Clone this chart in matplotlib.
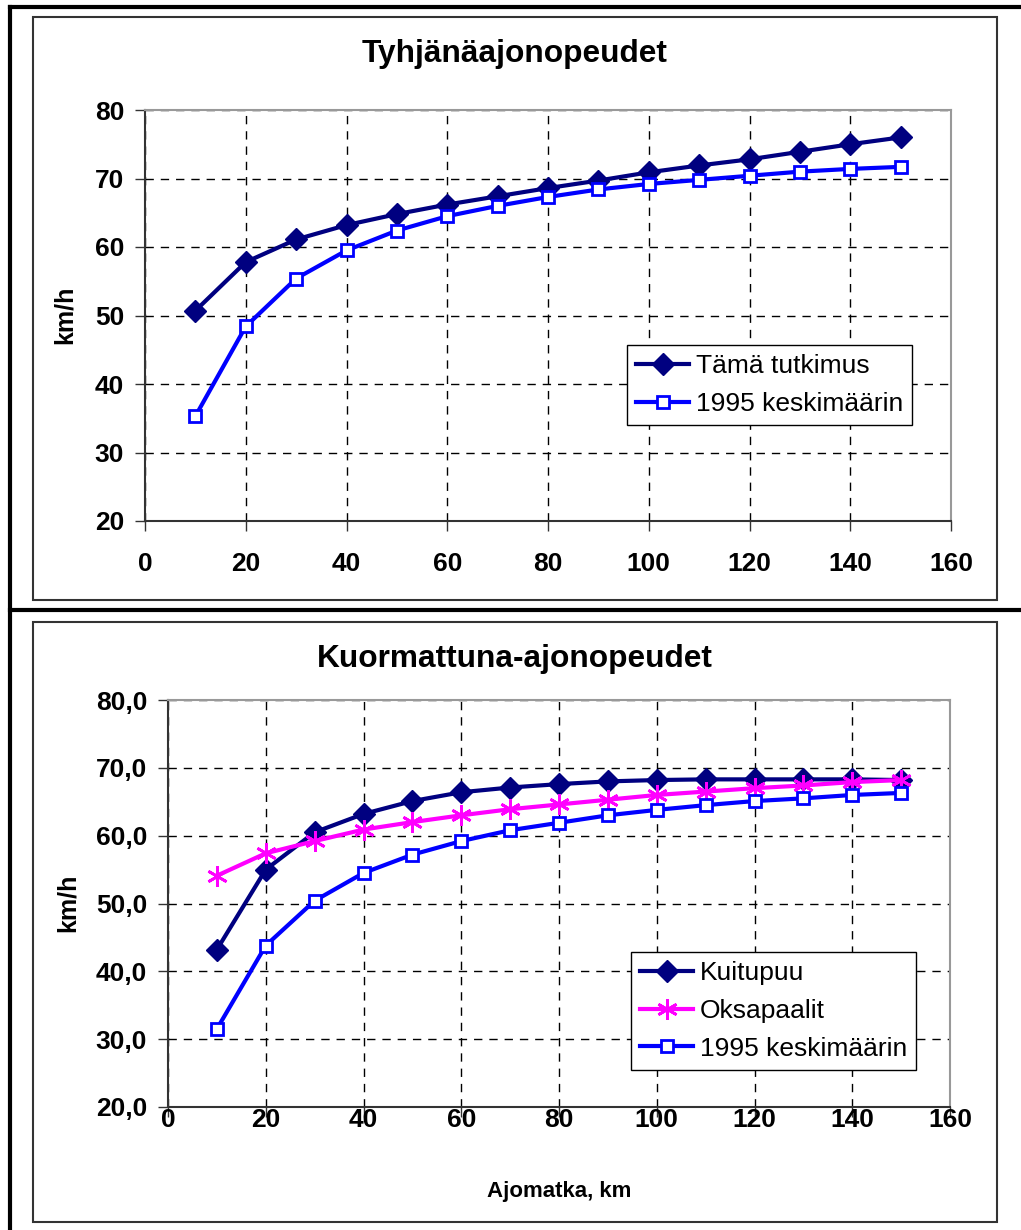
import numpy as np
import matplotlib
matplotlib.use('Agg')
import matplotlib.pyplot as plt
from matplotlib.patches import Rectangle
from matplotlib.lines import Line2D
from matplotlib.ticker import FuncFormatter

plt.rcParams['font.family'] = ['Liberation Sans', 'DejaVu Sans']

# data
km = [10, 20, 30, 40, 50, 60, 70, 80, 90, 100, 110, 120, 130, 140, 150]

tyhja_tama = [50.7, 57.8, 61.1, 63.2, 64.8, 66.2, 67.4, 68.6, 69.7, 70.9, 71.9, 72.8, 73.9, 75.0, 76.0]
tyhja_1995 = [35.3, 48.4, 55.4, 59.5, 62.4, 64.5, 66.0, 67.3, 68.4, 69.2, 69.8, 70.4, 71.0, 71.4, 71.7]

kuitupuu = [43.2, 55.0, 60.5, 63.2, 65.1, 66.4, 67.1, 67.6, 68.0, 68.2, 68.3, 68.3, 68.3, 68.3, 68.2]
oksapaalit = [54.1, 57.4, 59.2, 60.9, 62.0, 63.0, 63.9, 64.6, 65.3, 66.0, 66.5, 67.0, 67.4, 67.9, 68.2]
kuorm_1995 = [31.5, 43.8, 50.4, 54.5, 57.2, 59.2, 60.8, 61.9, 63.0, 63.8, 64.5, 65.1, 65.5, 66.0, 66.3]

W, H = 1021, 1230
NAVY = '#000080'
BLUE = '#0000FF'
MAG = '#FF00FF'


def px(x0, y0, x1, y1):
    # pixel box -> figure fraction rect
    return [x0 / W, 1 - y1 / H, (x1 - x0) / W, (y1 - y0) / H]


def style_axes(ax, fmt, xpad):
    ax.set_xlim(0, 160)
    ax.set_ylim(20, 80)
    ax.set_xticks(np.arange(0, 161, 20))
    ax.set_yticks(np.arange(20, 81, 10))
    ax.yaxis.set_major_formatter(FuncFormatter(fmt))
    ax.grid(True, color='black', linestyle=(0, (6, 5)), linewidth=1)
    ax.tick_params(direction='out', length=7, width=1, colors='#333333',
                   labelsize=19, labelcolor='black', pad=8)
    ax.tick_params(axis='x', pad=xpad)
    for lab in ax.get_xticklabels() + ax.get_yticklabels():
        lab.set_fontweight('bold')
    for s in ['top', 'right']:
        ax.spines[s].set_color('#999999')
        ax.spines[s].set_linewidth(1.5)
    for s in ['left', 'bottom']:
        ax.spines[s].set_color('#333333')
        ax.spines[s].set_linewidth(1.5)


def legend_at(ax, x, y):
    leg = ax.legend(loc='upper left', bbox_to_anchor=(x / W, 1 - y / H),
                    bbox_transform=fig.transFigure, fontsize=19,
                    frameon=True, fancybox=False, framealpha=1,
                    borderaxespad=0, handlelength=2.0, handletextpad=0.25,
                    borderpad=0.35, labelspacing=0.52)
    leg.get_frame().set_edgecolor('black')
    leg.get_frame().set_linewidth(1)


fig = plt.figure(figsize=(W / 100, H / 100), dpi=100)

# outer frame and chart boxes
fig.add_artist(Line2D([10 / W, 10 / W], [0, 1 - 7 / H], color='black', lw=3))
fig.add_artist(Line2D([10 / W, 1], [1 - 7 / H, 1 - 7 / H], color='black', lw=3))
fig.add_artist(Line2D([10 / W, 1], [1 - 610 / H, 1 - 610 / H], color='black', lw=3))
for r in (px(33, 17, 997, 600), px(33, 622, 997, 1222)):
    fig.add_artist(Rectangle((r[0], r[1]), r[2], r[3], transform=fig.transFigure,
                             fill=False, edgecolor='#333333', lw=1.5))

# top chart
ax1 = fig.add_axes(px(145, 110, 951, 521))
ax1.plot(km, tyhja_tama, color=NAVY, lw=3, marker='D', ms=11,
         label='Tämä tutkimus')
ax1.plot(km, tyhja_1995, color=BLUE, lw=3, marker='s', ms=8.5,
         mfc='white', mec=BLUE, mew=2, label='1995 keskimäärin')
style_axes(ax1, lambda v, p: '%d' % v, 15)
fig.text(515 / W, 1 - 54 / H, 'Tyhjänäajonopeudet', fontsize=22.8,
         fontweight='bold', ha='center', va='center')
fig.text(65 / W, 1 - 315 / H, 'km/h', fontsize=18, fontweight='bold',
         rotation=90, ha='center', va='center')
legend_at(ax1, 627, 345)

# bottom chart
ax2 = fig.add_axes(px(168, 700, 950, 1107))
ax2.plot(km, kuitupuu, color=NAVY, lw=3, marker='D', ms=11, label='Kuitupuu')
ax2.plot(km, oksapaalit, color=MAG, lw=3, marker=(6, 2, 0), ms=15, mew=2,
         label='Oksapaalit')
ax2.plot(km, kuorm_1995, color=BLUE, lw=3, marker='s', ms=8.5,
         mfc='white', mec=BLUE, mew=2, label='1995 keskimäärin')
style_axes(ax2, lambda v, p: ('%.1f' % v).replace('.', ','), -6)
fig.text(515 / W, 1 - 659 / H, 'Kuormattuna-ajonopeudet', fontsize=22.8,
         fontweight='bold', ha='center', va='center')
fig.text(68 / W, 1 - 903 / H, 'km/h', fontsize=18, fontweight='bold',
         rotation=90, ha='center', va='center')
fig.text(559 / W, 1 - 1192 / H, 'Ajomatka, km', fontsize=16,
         fontweight='bold', ha='center', va='center')
legend_at(ax2, 631, 952)

fig.savefig('out.png', dpi=100)
